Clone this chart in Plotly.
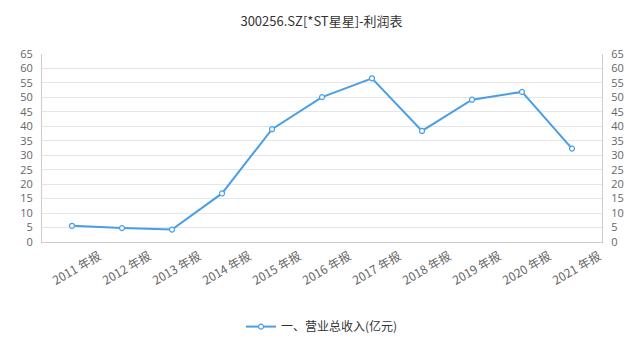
import plotly.graph_objects as go

categories = ["2011 年报", "2012 年报", "2013 年报", "2014 年报", "2015 年报", "2016 年报",
              "2017 年报", "2018 年报", "2019 年报", "2020 年报", "2021 年报"]
revenue = [5.6, 4.8, 4.3, 16.8, 39.0, 50.1, 56.6, 38.4, 49.2, 51.9, 32.3]
series_name = "一、营业总收入(亿元)"
title_text = "300256.SZ[*ST星星]-利润表"
y_ticks = list(range(0, 70, 5))

FONT = "Noto Sans CJK SC, Open Sans, sans-serif"
NUMFONT = "Open Sans, sans-serif"
LINE = "#4a9ee6"

fig = go.Figure()
fig.add_trace(go.Scatter(
    x=categories, y=revenue, name=series_name, mode="lines+markers",
    line=dict(color=LINE, width=2),
    marker=dict(symbol="circle", size=5, color="white", line=dict(color=LINE, width=1.2)),
))
fig.add_trace(go.Scatter(
    x=categories, y=revenue, yaxis="y2", mode="lines", showlegend=False,
    line=dict(width=0), hoverinfo="skip", opacity=0,
))

fig.update_layout(
    width=643, height=359,
    margin=dict(l=42, r=41, t=54, b=117),
    paper_bgcolor="white", plot_bgcolor="white",
    font=dict(family=FONT, size=12, color="#666"),
    title=dict(text=title_text, x=0.5, xanchor="center", y=0.94, yanchor="middle",
               font=dict(family=FONT, size=13, color="#333")),
    showlegend=True,
    legend=dict(orientation="h", x=0.5, xanchor="center", y=-0.45, yanchor="middle",
                itemwidth=30,
                font=dict(family=FONT, size=12, color="#333")),
    xaxis=dict(
        type="category", range=[-0.6, 10.6], tickangle=-30,
        showline=True, linecolor="#ccc", linewidth=1, ticks="",
        ticklabelshift=27, ticklabelstandoff=2,
        showgrid=False, tickfont=dict(family=FONT, size=12, color="#666"), fixedrange=True,
    ),
    yaxis=dict(
        range=[0, 65], tickvals=y_ticks, showline=True, linecolor="#ccc",
        gridcolor="#e6e6e6", zeroline=False, ticks="", ticklabelstandoff=6,
        tickfont=dict(family=NUMFONT, size=11, color="#666"),
    ),
    yaxis2=dict(
        range=[0, 65], tickvals=y_ticks, overlaying="y", side="right",
        showline=True, linecolor="#ccc", showgrid=False, zeroline=False, ticks="",
        ticklabelstandoff=6,
        tickfont=dict(family=NUMFONT, size=11, color="#666"),
    ),
)

fig.write_html("out.html")
